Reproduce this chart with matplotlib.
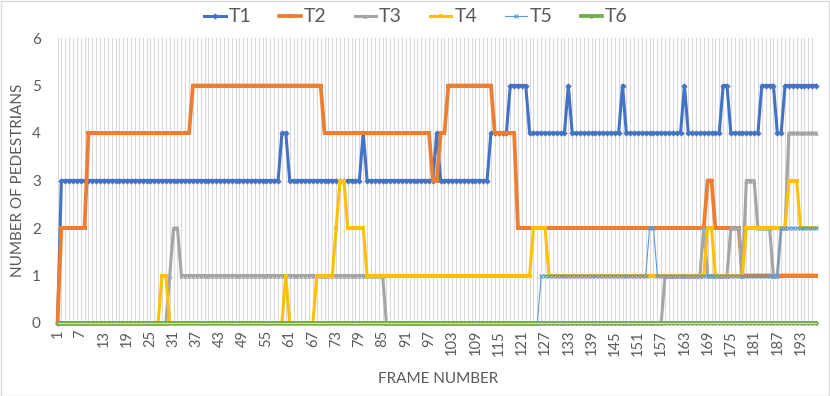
import matplotlib
matplotlib.use("Agg")
import matplotlib.pyplot as plt
from matplotlib.patches import Rectangle

plt.rcParams['font.family'] = ['Lato', 'DejaVu Sans']

frames = list(range(1, 198))
tick_labels = [1, 7, 13, 19, 25, 31, 37, 43, 49, 55, 61, 67, 73, 79, 85, 91, 97, 103,
               109, 115, 121, 127, 133, 139, 145, 151, 157, 163, 169, 175, 181, 187, 193]

T1 = [0,3,3,3,3,3,3,3,3,3, 3,3,3,3,3,3,3,3,3,3, 3,3,3,3,3,3,3,3,3,3, 3,3,3,3,3,3,3,3,3,3,
      3,3,3,3,3,3,3,3,3,3, 3,3,3,3,3,3,3,3,4,4, 3,3,3,3,3,3,3,3,3,3, 3,3,3,3,3,3,3,3,3,4,
      3,3,3,3,3,3,3,3,3,3, 3,3,3,3,3,3,3,3,4,3, 3,3,3,3,3,3,3,3,3,3, 3,3,4,4,4,4,4,5,5,5,
      5,5,4,4,4,4,4,4,4,4, 4,4,5,4,4,4,4,4,4,4, 4,4,4,4,4,4,5,4,4,4, 4,4,4,4,4,4,4,4,4,4,
      4,4,5,4,4,4,4,4,4,4, 4,4,5,5,4,4,4,4,4,4, 4,4,5,5,5,5,4,4,5,5, 5,5,5,5,5,5,5]
T2 = [0,2,2,2,2,2,2,2,4,4, 4,4,4,4,4,4,4,4,4,4, 4,4,4,4,4,4,4,4,4,4, 4,4,4,4,4,5,5,5,5,5,
      5,5,5,5,5,5,5,5,5,5, 5,5,5,5,5,5,5,5,5,5, 5,5,5,5,5,5,5,5,5,4, 4,4,4,4,4,4,4,4,4,4,
      4,4,4,4,4,4,4,4,4,4, 4,4,4,4,4,4,4,3,3,4, 4,5,5,5,5,5,5,5,5,5, 5,5,5,4,4,4,4,4,4,2,
      2,2,2,2,2,2,2,2,2,2, 2,2,2,2,2,2,2,2,2,2, 2,2,2,2,2,2,2,2,2,2, 2,2,2,2,2,2,2,2,2,2,
      2,2,2,2,2,2,2,2,3,3, 2,2,2,2,2,2,2,1,1,1, 1,1,1,1,1,1,1,1,1,1, 1,1,1,1,1,1,1]
T3 = [0,0,0,0,0,0,0,0,0,0, 0,0,0,0,0,0,0,0,0,0, 0,0,0,0,0,0,0,0,0,1, 2,2,1,1,1,1,1,1,1,1,
      1,1,1,1,1,1,1,1,1,1, 1,1,1,1,1,1,1,1,1,1, 1,1,1,1,1,1,1,1,1,1, 1,1,1,1,1,1,1,1,1,1,
      1,1,1,1,1,0,0,0,0,0, 0,0,0,0,0,0,0,0,0,0, 0,0,0,0,0,0,0,0,0,0, 0,0,0,0,0,0,0,0,0,0,
      0,0,0,0,0,0,0,0,0,0, 0,0,0,0,0,0,0,0,0,0, 0,0,0,0,0,0,0,0,0,0, 0,0,0,0,0,0,0,1,1,1,
      1,1,1,1,1,1,1,2,1,1, 1,1,1,1,2,2,2,1,3,3, 3,2,2,2,2,1,1,2,2,4, 4,4,4,4,4,4,4]
T4 = [0,0,0,0,0,0,0,0,0,0, 0,0,0,0,0,0,0,0,0,0, 0,0,0,0,0,0,0,1,1,0, 0,0,0,0,0,0,0,0,0,0,
      0,0,0,0,0,0,0,0,0,0, 0,0,0,0,0,0,0,0,0,1, 0,0,0,0,0,0,0,1,1,1, 1,1,2,3,3,2,2,2,2,2,
      1,1,1,1,1,1,1,1,1,1, 1,1,1,1,1,1,1,1,1,1, 1,1,1,1,1,1,1,1,1,1, 1,1,1,1,1,1,1,1,1,1,
      1,1,1,2,2,2,2,1,1,1, 1,1,1,1,1,1,1,1,1,1, 1,1,1,1,1,1,1,1,1,1, 1,1,1,1,1,1,1,1,1,1,
      1,1,1,1,1,1,1,1,2,2, 1,1,1,1,1,1,1,1,2,2, 2,2,2,2,2,2,2,2,2,3, 3,3,2,2,2,2,2]
T5 = [0,0,0,0,0,0,0,0,0,0, 0,0,0,0,0,0,0,0,0,0, 0,0,0,0,0,0,0,0,0,0, 0,0,0,0,0,0,0,0,0,0,
      0,0,0,0,0,0,0,0,0,0, 0,0,0,0,0,0,0,0,0,0, 0,0,0,0,0,0,0,0,0,0, 0,0,0,0,0,0,0,0,0,0,
      0,0,0,0,0,0,0,0,0,0, 0,0,0,0,0,0,0,0,0,0, 0,0,0,0,0,0,0,0,0,0, 0,0,0,0,0,0,0,0,0,0,
      0,0,0,0,0,1,1,1,1,1, 1,1,1,1,1,1,1,1,1,1, 1,1,1,1,1,1,1,1,1,1, 1,1,1,2,2,1,1,1,1,1,
      1,1,1,1,1,1,1,1,1,1, 1,1,1,1,1,1,1,1,1,1, 1,1,1,1,1,1,1,2,2,2, 2,2,2,2,2,2,2]
T6 = [0] * 197

series_names = ["T1", "T2", "T3", "T4", "T5", "T6"]
series_data = [T1, T2, T3, T4, T5, T6]
colors = ["#4472C4", "#ED7D31", "#A5A5A5", "#FFC000", "#5B9BD5", "#70AD47"]
markers = ["D", "s", "^", "s", "x", "o"]
msizes = [3.2, 3.2, 3.2, 3.2, 3.5, 3.2]
lws = [2.2, 2.7, 2.2, 2.2, 0.8, 2.7]

W, H = 830, 396
fig = plt.figure(figsize=(W / 100, H / 100), dpi=100)
fig.patch.set_facecolor("white")
fig.patches.append(Rectangle((0.5 / W, 0.5 / H), 1 - 1.5 / W, 1 - 1.5 / H, transform=fig.transFigure,
                             fill=False, edgecolor="#d9d9d9", lw=1))

left, right, top, bottom = 57.5, 816.0, 38.0, 323.0
ax = fig.add_axes([left / W, 1 - bottom / H, (right - left) / W, (bottom - top) / H])

handles = []
for name, d, c, m, ms, lw in zip(series_names, series_data, colors, markers, msizes, lws):
    h, = ax.plot(frames[:len(d)], d, color=c, lw=lw, marker=m, ms=ms, mew=0.8 if m == "x" else 0,
                 mec=c, mfc=c, label=name, clip_on=False, solid_joinstyle="round")
    handles.append(h)

ax.set_xlim(1, 197)
ax.set_ylim(0, 6)
ax.set_yticks(range(0, 7))
ax.set_xticks(tick_labels)
ax.set_xticklabels([str(t) for t in tick_labels], rotation=90, fontsize=10.5, color="#595959")
ax.set_xticks(frames, minor=True)
ax.tick_params(axis="x", which="both", length=0, pad=5)
ax.tick_params(axis="y", length=0, labelsize=11, labelcolor="#595959", pad=12)
ax.grid(axis="x", which="both", color="#d9d9d9", lw=0.8)
ax.set_axisbelow(True)
for s in ["top", "right", "left"]:
    ax.spines[s].set_visible(False)
ax.spines["bottom"].set_color("#d9d9d9")

fig.text(18 / W, 1 - 180 / H, "NUMBER OF PEDESTRIANS", rotation=90, ha="center", va="center",
         fontsize=11, color="#595959")
fig.text(438 / W, 1 - 379 / H, "FRAME NUMBER", ha="center", va="center", fontsize=11, color="#595959")

leg = fig.legend(handles=handles, loc="center", bbox_to_anchor=(416 / W, 1 - 17 / H), ncol=6,
                 frameon=False, fontsize=14, handlelength=1.1, handletextpad=0.15, columnspacing=1.45,
                 labelcolor="#595959")

fig.savefig("out.png", dpi=100)
